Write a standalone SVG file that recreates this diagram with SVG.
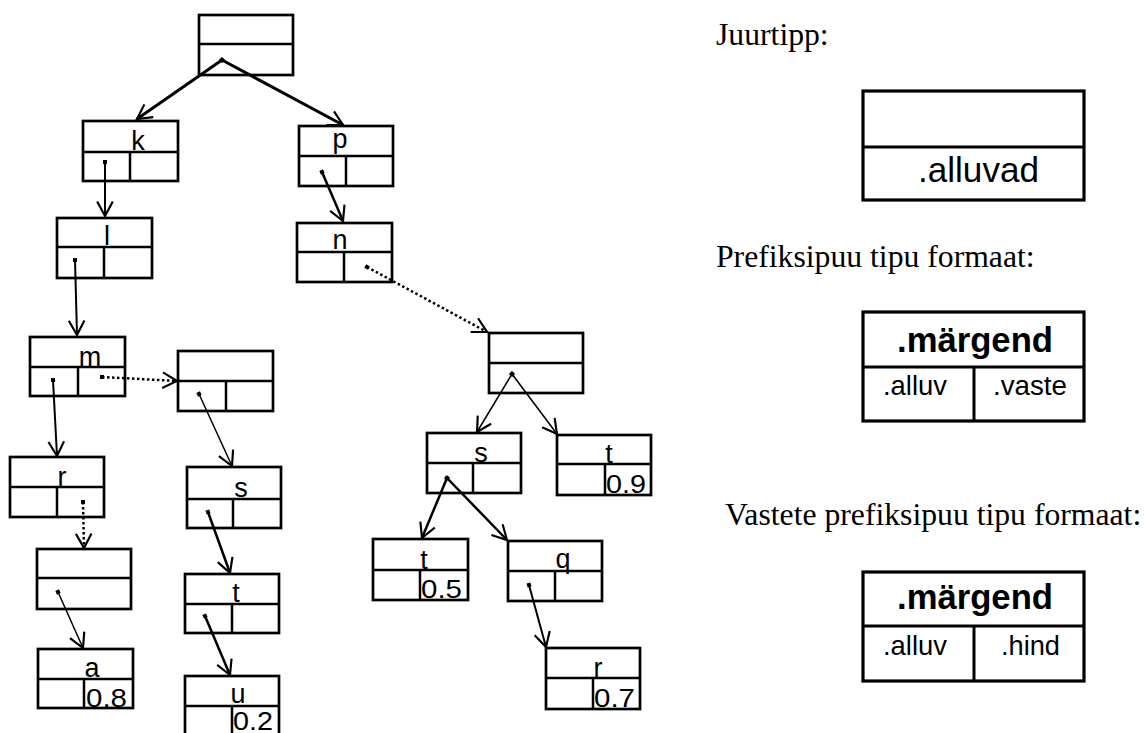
<svg xmlns="http://www.w3.org/2000/svg" width="1148" height="733" viewBox="0 0 1148 733">
<defs>
<style>
.bx{fill:#fff;stroke:#000;stroke-width:2.7}
.ln{stroke:#000;stroke-width:2.5;fill:none}
.rb{fill:#fff;stroke:#000;stroke-width:3.2}
.rl{stroke:#000;stroke-width:3;fill:none}
.lab{font-family:"Liberation Sans",Arial,sans-serif;font-size:27px;fill:#000}
.num{font-family:"Liberation Sans",Arial,sans-serif;font-size:25px;fill:#000}
.cap{font-family:"Liberation Serif","Times New Roman",serif;font-size:31.7px;fill:#000}
.big{font-family:"Liberation Sans",Arial,sans-serif;font-size:35px;fill:#000}
.sm{font-family:"Liberation Sans",Arial,sans-serif;font-size:27.5px;fill:#000}
.c{stroke:#000;fill:none;marker-end:url(#ah);marker-start:url(#dot)}
.d{stroke-dasharray:2.5 2.5}
</style>
<marker id="ah" markerUnits="userSpaceOnUse" markerWidth="18" markerHeight="18" viewBox="-1 -1 15 15" refX="12" refY="6.5" orient="auto">
<path d="M0,0 L12,6.5 L0,13" fill="none" stroke="#000" stroke-width="1.8"/>
</marker>
<marker id="dot" markerUnits="userSpaceOnUse" markerWidth="6" markerHeight="6" viewBox="0 0 6 6" refX="3" refY="3" orient="auto">
<rect x="1" y="1" width="4" height="4" fill="#000"/>
</marker>
</defs>

<g id="root"><rect class="bx" x="199" y="15" width="94" height="60"/><line class="ln" x1="199" y1="44" x2="293" y2="44"/></g>
<g id="node-k"><rect class="bx" x="83" y="121" width="95" height="60"/><line class="ln" x1="83" y1="152" x2="178" y2="152"/><line class="ln" x1="130" y1="152" x2="130" y2="181"/><text class="lab" x="138" y="150" text-anchor="middle">k</text></g>
<g id="node-p"><rect class="bx" x="299" y="126" width="94" height="60"/><line class="ln" x1="299" y1="156" x2="393" y2="156"/><line class="ln" x1="346" y1="156" x2="346" y2="186"/><text class="lab" x="340" y="148" text-anchor="middle">p</text></g>
<g id="node-l"><rect class="bx" x="57" y="218" width="95" height="60"/><line class="ln" x1="57" y1="247" x2="152" y2="247"/><line class="ln" x1="104" y1="247" x2="104" y2="278"/><text class="lab" x="107" y="245" text-anchor="middle">l</text></g>
<g id="node-n"><rect class="bx" x="297" y="223" width="95" height="59"/><line class="ln" x1="297" y1="252" x2="392" y2="252"/><line class="ln" x1="344" y1="252" x2="344" y2="282"/><text class="lab" x="340" y="249" text-anchor="middle">n</text></g>
<g id="node-m"><rect class="bx" x="30" y="337" width="95" height="59"/><line class="ln" x1="30" y1="367" x2="125" y2="367"/><line class="ln" x1="78" y1="367" x2="78" y2="396"/><text class="lab" x="90" y="366" text-anchor="middle">m</text></g>
<g id="node-m2"><rect class="bx" x="178" y="351" width="95" height="60"/><line class="ln" x1="178" y1="381" x2="273" y2="381"/><line class="ln" x1="226" y1="381" x2="226" y2="411"/></g>
<g id="node-n2"><rect class="bx" x="489" y="333" width="94" height="60"/><line class="ln" x1="489" y1="363" x2="583" y2="363"/></g>
<g id="node-r"><rect class="bx" x="10" y="457" width="94" height="60"/><line class="ln" x1="10" y1="487" x2="104" y2="487"/><line class="ln" x1="57" y1="487" x2="57" y2="517"/><text class="lab" x="62" y="486" text-anchor="middle">r</text></g>
<g id="node-s1"><rect class="bx" x="187" y="467" width="94" height="61"/><line class="ln" x1="187" y1="499" x2="281" y2="499"/><line class="ln" x1="233" y1="499" x2="233" y2="528"/><text class="lab" x="241" y="497" text-anchor="middle">s</text></g>
<g id="node-s2"><rect class="bx" x="427" y="433" width="94" height="60"/><line class="ln" x1="427" y1="463" x2="521" y2="463"/><line class="ln" x1="473" y1="463" x2="473" y2="493"/><text class="lab" x="481" y="462" text-anchor="middle">s</text></g>
<g id="node-t09"><rect class="bx" x="557" y="435" width="94" height="60"/><line class="ln" x1="557" y1="464" x2="651" y2="464"/><line class="ln" x1="605" y1="464" x2="605" y2="495"/><text class="lab" x="609" y="463" text-anchor="middle">t</text><text class="num" x="606" y="493" textLength="40" lengthAdjust="spacingAndGlyphs">0.9</text></g>
<g id="node-r2"><rect class="bx" x="37" y="549" width="94" height="60"/><line class="ln" x1="37" y1="578" x2="131" y2="578"/></g>
<g id="node-t1"><rect class="bx" x="185" y="574" width="94" height="59"/><line class="ln" x1="185" y1="604" x2="279" y2="604"/><line class="ln" x1="232" y1="604" x2="232" y2="633"/><text class="lab" x="236" y="602" text-anchor="middle">t</text></g>
<g id="node-t05"><rect class="bx" x="373" y="539" width="95" height="61"/><line class="ln" x1="373" y1="570" x2="468" y2="570"/><line class="ln" x1="420" y1="570" x2="420" y2="600"/><text class="lab" x="424" y="569" text-anchor="middle">t</text><text class="num" x="421" y="598" textLength="41" lengthAdjust="spacingAndGlyphs">0.5</text></g>
<g id="node-q"><rect class="bx" x="508" y="541" width="94" height="60"/><line class="ln" x1="508" y1="571" x2="602" y2="571"/><line class="ln" x1="555" y1="571" x2="555" y2="601"/><text class="lab" x="563" y="568" text-anchor="middle">q</text></g>
<g id="node-a"><rect class="bx" x="38" y="649" width="95" height="59"/><line class="ln" x1="38" y1="679" x2="133" y2="679"/><line class="ln" x1="84" y1="679" x2="84" y2="708"/><text class="lab" x="92" y="677" text-anchor="middle">a</text><text class="num" x="86" y="707" textLength="41" lengthAdjust="spacingAndGlyphs">0.8</text></g>
<g id="node-u"><rect class="bx" x="185" y="676" width="94" height="70"/><line class="ln" x1="185" y1="706" x2="279" y2="706"/><line class="ln" x1="232" y1="706" x2="232" y2="746"/><text class="lab" x="238" y="703" text-anchor="middle">u</text><text class="num" x="233" y="730" textLength="40" lengthAdjust="spacingAndGlyphs">0.2</text></g>
<g id="node-r07"><rect class="bx" x="546" y="648" width="94" height="61"/><line class="ln" x1="546" y1="678" x2="640" y2="678"/><line class="ln" x1="593" y1="678" x2="593" y2="709"/><text class="lab" x="598" y="677" text-anchor="middle">r</text><text class="num" x="594" y="707" textLength="41" lengthAdjust="spacingAndGlyphs">0.7</text></g>

<g id="connectors">
<line class="c" stroke-width="3" x1="222" y1="60" x2="137" y2="119"/>
<line class="c" stroke-width="3" x1="222" y1="60" x2="343" y2="125"/>
<line class="c" stroke-width="2" x1="105" y1="162" x2="105" y2="216"/>
<line class="c" stroke-width="2.5" x1="322" y1="172" x2="343" y2="221"/>
<line class="c" stroke-width="2" x1="75" y1="260" x2="77" y2="335"/>
<line class="c d" stroke-width="2.5" x1="367" y1="267" x2="487" y2="332"/>
<line class="c d" stroke-width="2.5" x1="102" y1="377" x2="177" y2="381"/>
<line class="c" stroke-width="1.5" x1="199" y1="394" x2="232" y2="466"/>
<line class="c" stroke-width="2" x1="53" y1="380" x2="57" y2="456"/>
<line class="c d" stroke-width="2.5" x1="83" y1="502" x2="84" y2="548"/>
<line class="c" stroke-width="1.5" x1="58" y1="592" x2="83" y2="648"/>
<line class="c" stroke-width="2.5" x1="208" y1="512" x2="230" y2="573"/>
<line class="c" stroke-width="2.5" x1="205" y1="616" x2="230" y2="675"/>
<line class="c" stroke-width="1.5" x1="512" y1="374" x2="477" y2="432"/>
<line class="c" stroke-width="1.5" x1="512" y1="374" x2="557" y2="434"/>
<line class="c" stroke-width="2.5" x1="447" y1="478" x2="422" y2="538"/>
<line class="c" stroke-width="2.5" x1="447" y1="478" x2="507" y2="540"/>
<line class="c" stroke-width="2" x1="529" y1="585" x2="546" y2="647"/>
</g>

<g id="legend-root">
<text class="cap" x="716" y="45">Juurtipp:</text>
<rect class="rb" x="863" y="91" width="221" height="109"/>
<line class="rl" x1="863" y1="147" x2="1084" y2="147"/>
<text class="big" x="918" y="182" textLength="121" lengthAdjust="spacingAndGlyphs">.alluvad</text>
</g>
<g id="legend-prefix">
<text class="cap" x="716" y="267">Prefiksipuu tipu formaat:</text>
<rect class="rb" x="863" y="312" width="221" height="109"/>
<line class="rl" x1="863" y1="367" x2="1084" y2="367"/>
<line class="rl" x1="974" y1="367" x2="974" y2="421"/>
<text class="big" x="897" y="352" font-weight="bold" textLength="156" lengthAdjust="spacingAndGlyphs">.märgend</text>
<text class="sm" x="883" y="395" textLength="64" lengthAdjust="spacingAndGlyphs">.alluv</text>
<text class="sm" x="993" y="395" textLength="74" lengthAdjust="spacingAndGlyphs">.vaste</text>
</g>
<g id="legend-vastete">
<text class="cap" x="725" y="525">Vastete prefiksipuu tipu formaat:</text>
<rect class="rb" x="863" y="572" width="221" height="109"/>
<line class="rl" x1="863" y1="626" x2="1084" y2="626"/>
<line class="rl" x1="974" y1="626" x2="974" y2="681"/>
<text class="big" x="897" y="609" font-weight="bold" textLength="156" lengthAdjust="spacingAndGlyphs">.märgend</text>
<text class="sm" x="883" y="655" textLength="64" lengthAdjust="spacingAndGlyphs">.alluv</text>
<text class="sm" x="1001" y="655" textLength="59" lengthAdjust="spacingAndGlyphs">.hind</text>
</g>
</svg>
